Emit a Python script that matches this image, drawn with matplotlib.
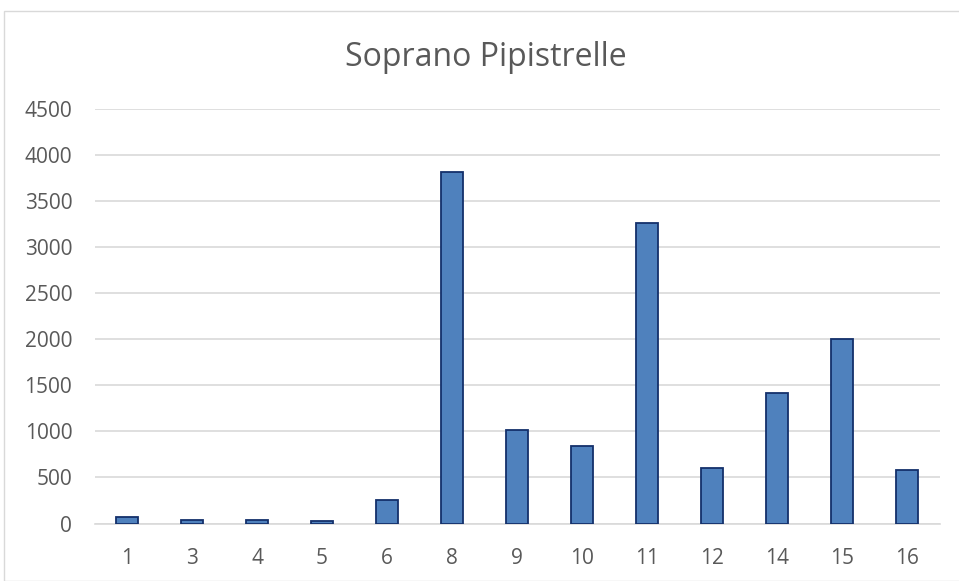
import numpy as np
import matplotlib.pyplot as plt

plt.rcParams['font.family'] = ['Open Sans', 'DejaVu Sans']

# Soprano Pipistrelle counts per site
sites = ['1', '3', '4', '5', '6', '8', '9', '10', '11', '12', '14', '15', '16']
counts = [70, 40, 40, 30, 255, 3820, 1010, 840, 3260, 600, 1420, 2000, 580]
yticks = np.arange(0, 4501, 500)

fig = plt.figure(figsize=(9.59, 5.81), dpi=100)
ax = fig.add_axes([94.5 / 959, 1 - 523.5 / 581, 845 / 959, 414.5 / 581])

x = np.arange(len(sites))
ax.bar(x, counts, width=0.33, color='#4F81BD', edgecolor='#14306B', linewidth=1.3, zorder=3)

ax.set_xlim(-0.5, len(sites) - 0.5)
ax.set_ylim(0, 4500)
ax.set_yticks(yticks)
ax.set_xticks(x)
ax.set_xticklabels(sites)
ax.grid(axis='y', color='#D9D9D9', linewidth=1.2, zorder=0)
ax.tick_params(length=0, labelsize=15, colors='#595959')
ax.tick_params(axis='x', pad=18)
ax.tick_params(axis='y', pad=16)
for s in ['top', 'right', 'left']:
    ax.spines[s].set_visible(False)
ax.spines['bottom'].set_color('#D9D9D9')
ax.spines['bottom'].set_linewidth(1.2)

fig.text(486 / 959, 1 - 57 / 581, 'Soprano Pipistrelle', ha='center', va='center',
         fontsize=23, color='#595959')

# light chart border
fig.patches.append(plt.Rectangle((4 / 959, 0), 1, 1 - 10.5 / 581, transform=fig.transFigure,
                                 fill=False, edgecolor='#D9D9D9', linewidth=1))

plt.savefig('out.png', dpi=100)
